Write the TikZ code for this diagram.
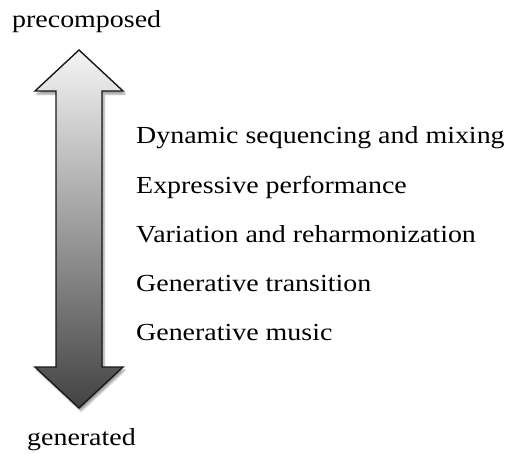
\documentclass[tikz,border=0pt]{standalone}
\usepackage{fontspec}
\setmainfont{Liberation Serif}[FakeStretch=1.14]
\usepackage{tikz}
\usetikzlibrary{positioning,shadows.blur}
\tikzset{
  txt/.style      ={font=\fontsize{24.5}{29}\selectfont, inner sep=0pt,
    anchor=base west, text=black},
  item/.style     ={txt},
  axisarrow/.style={draw=black!90, line width=1.4pt, line join=miter,
    top color=black!4, bottom color=black!74,
    blur shadow={shadow xshift=2pt, shadow yshift=-3pt,
      shadow blur steps=6, shadow opacity=40}}
}
\begin{document}
\begin{tikzpicture}[x=1pt, y=-1pt]
    \useasboundingbox (0,0) rectangle (510,453);

    % ---------- double arrow (precomposed <-> generated) ----------
    \coordinate (top) at (79,50);
    \coordinate (bot) at (79,408);
    \path[axisarrow] (top) -- (123,91) -- (102,91) -- (102,367) -- (123,367)
      -- (bot) -- (35,367) -- (56,367) -- (56,91) -- (35,91) -- cycle;

    % ---------- end labels ----------
    \node[txt] (pre) at (12,27) {precomposed};
    \node[txt] (gen) at (27,445) {generated};

    % ---------- list of techniques ----------
    \node[item] (dyn) at (136,143) {Dynamic sequencing and mixing};
    \node[item, below=50pt of dyn.base west, anchor=base west] (expr)
      {Expressive performance};
    \node[item, below=49pt of expr.base west, anchor=base west] (var)
      {Variation and reharmonization};
    \node[item, below=49pt of var.base west, anchor=base west] (trans)
      {Generative transition};
    \node[item, below=49pt of trans.base west, anchor=base west] (music)
      {Generative music};

  \end{tikzpicture}
\end{document}
